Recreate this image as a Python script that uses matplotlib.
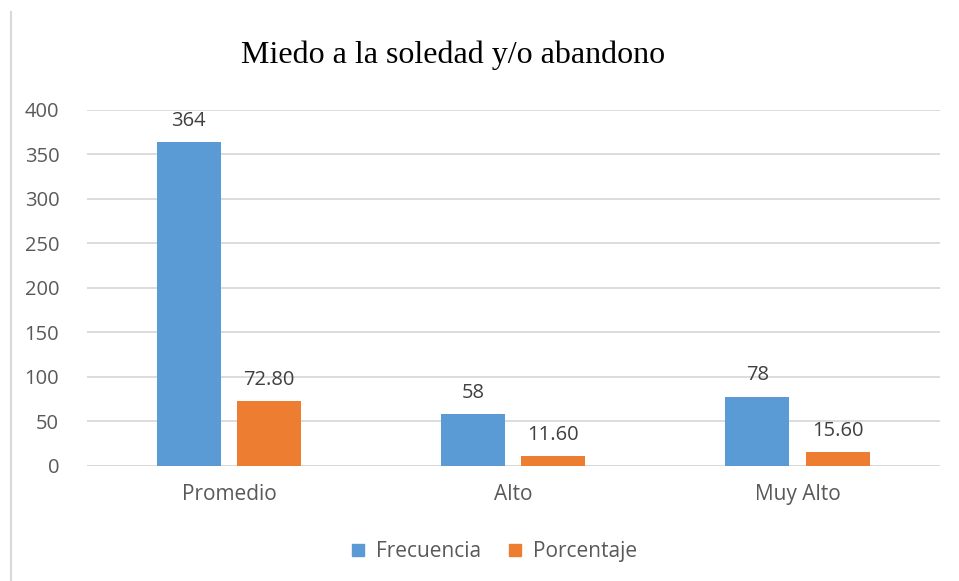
import numpy as np
import matplotlib
matplotlib.use("Agg")
import matplotlib.pyplot as plt
from matplotlib.lines import Line2D

categories = ["Promedio", "Alto", "Muy Alto"]
frecuencia = [364, 58, 78]
porcentaje = [72.80, 11.60, 15.60]
yticks = [0, 50, 100, 150, 200, 250, 300, 350, 400]

blue = "#5b9bd5"
orange = "#ed7d31"
grey = "#595959"

plt.rcParams['font.family'] = ['Open Sans', 'DejaVu Sans']

fig = plt.figure(figsize=(9.59, 5.81), dpi=100)
ax = fig.add_axes([0.0907, 0.198, 0.8895, 0.6127])

x = np.arange(len(categories))
w = 0.225
b1 = ax.bar(x - 0.142, frecuencia, w, color=blue, label="Frecuencia", zorder=3)
b2 = ax.bar(x + 0.140, porcentaje, w, color=orange, label="Porcentaje", zorder=3)

# data labels
for rect, v in zip(b1, frecuencia):
    ax.annotate(f"{v}", (rect.get_x() + rect.get_width() / 2, v),
                xytext=(0, 8), textcoords="offset points", ha="center", va="bottom",
                fontsize=14.5, color="#404040")
for rect, v in zip(b2, porcentaje):
    ax.annotate(f"{v:.2f}", (rect.get_x() + rect.get_width() / 2, v),
                xytext=(0, 8), textcoords="offset points", ha="center", va="bottom",
                fontsize=14.5, color="#404040")

ax.set_xlim(-0.5, 2.5)
ax.set_ylim(0, 400)
ax.set_yticks(yticks)
ax.set_yticklabels([str(t) for t in yticks], fontsize=14.5, color=grey)
ax.set_xticks(x)
ax.set_xticklabels(categories, fontsize=15, color=grey)
ax.tick_params(axis="y", length=0, pad=20)
ax.tick_params(axis="x", length=0, pad=13)
ax.yaxis.grid(True, color="#d9d9d9", linewidth=1.3, zorder=0)
for s in ax.spines.values():
    s.set_visible(False)
ax.axhline(0, color="#d9d9d9", linewidth=1.3, zorder=2)

fig.text(0.472, 0.905, "Miedo a la soledad y/o abandono", ha="center", va="center",
         fontsize=23, family=["Liberation Serif", "DejaVu Serif"], color="black")

handles = [Line2D([], [], marker="s", linestyle="none", markersize=9, color=blue),
           Line2D([], [], marker="s", linestyle="none", markersize=9, color=orange)]
fig.legend(handles, ["Frecuencia", "Porcentaje"], loc="center", bbox_to_anchor=(0.515, 0.051),
           ncol=2, frameon=False, fontsize=15, labelcolor=grey,
           handlelength=0.7, handletextpad=0.5, columnspacing=1.3)

# left border of chart area
fig.add_artist(Line2D([11 / 959, 11 / 959], [0, 1 - 12 / 581], transform=fig.transFigure,
                      color="#d9d9d9", linewidth=1.5))

fig.savefig("out.png", dpi=100)
